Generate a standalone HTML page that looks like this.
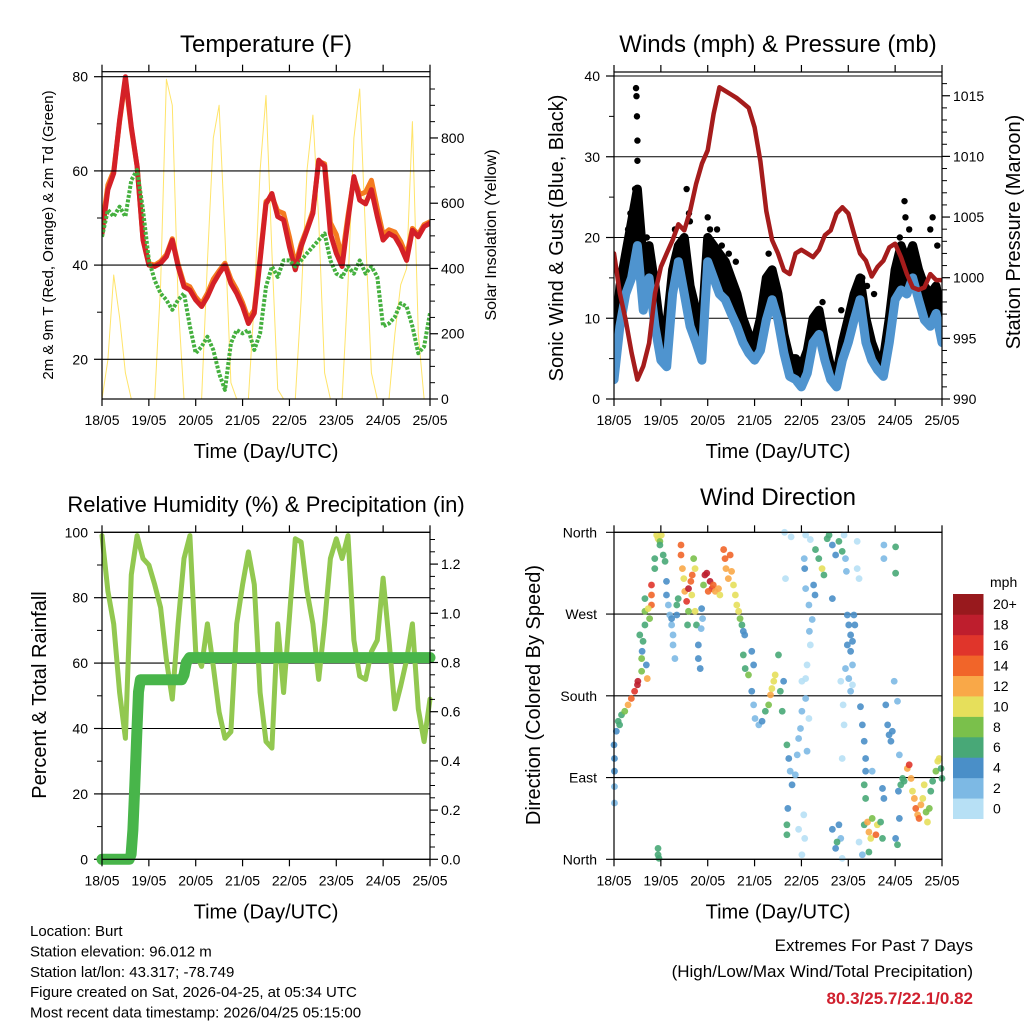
<!DOCTYPE html>
<html><head><meta charset="utf-8"><style>
html,body{margin:0;padding:0;background:#fff;}
svg{display:block;font-family:"Liberation Sans",Arial,sans-serif;}
</style></head><body>
<svg id="chart" width="1024" height="1024" viewBox="0 0 1024 1024" xmlns="http://www.w3.org/2000/svg">
<rect width="1024" height="1024" fill="#fff"/>
</svg>
<script>
// ---------- data ----------
const dayLabels = ["18/05","19/05","20/05","21/05","22/05","23/05","24/05","25/05"];
const step3h = 0.125;
const tempRed = [46.7,56,59.5,70.8,80,69.4,61,45.3,40,39.7,40.4,41.8,45.3,39.7,35.4,34.7,32.6,31.2,33.3,36.1,38.2,40,36.1,34,31.2,27.6,29.8,41,53,55.2,50.3,49.6,43.9,39,43.9,47.4,51,62.3,61,46.7,42.5,39.7,49.6,58.8,53.8,53,56,50.3,45.3,46.7,46,43.9,41,47.4,46,48.2,48.9];
const tempOrange = [48,57,60,70.5,79.5,69,61,45.5,40.3,40,40.8,42.2,45.6,40.2,36,35.4,33.2,31.8,34,37,38.8,40.4,37,34.8,32,28.5,30.5,41.5,53.5,54.5,51.5,51,46,40,44.5,47.8,51.5,62,61.5,49,46.5,41.5,50.5,58.5,55,55.5,58,52,46.5,47.5,47,45,42,47.8,46.5,48.6,49.2];
const dewGreen = [46,51.7,50.3,52.4,50.3,58,60.2,51.7,41,36.8,34,32.6,30.5,32.6,34,27,21.3,22.7,24.8,22,17,13.5,23.4,26.2,25.5,26.2,22,25.5,35.4,39.7,37.5,41,41,39.7,41,42.5,43.9,45.3,46.7,41,38.2,37.5,39.7,38.2,41,38.2,39.7,37.5,27,27.6,29,31.9,31.2,27,21.3,22.7,29.8];
const solar = [0,120,380,250,80,0,0,0,0,0,350,980,900,300,0,0,0,0,420,800,900,500,50,0,0,0,300,700,930,450,30,0,0,0,300,700,870,550,80,0,0,0,350,800,950,500,80,0,0,0,200,350,400,850,200,0,0];
const windMean = [2.4,9,13,15,19,11,15,9,4.8,4,13,17,13,9,7,4.8,17,15,13,12.3,10.6,9,7,5.7,4.8,6,9.8,12.3,9.8,5.7,2.8,2.4,1.5,3.2,7,8,4.8,2.4,1.5,4.8,7,9.8,12.3,7,4.8,3.6,2.8,7,12.3,13.5,13,15,12.3,9.8,9,10.6,7];
const windGust = [5,14,18,22,26,17,19,14,8,9,16,19,20,14,11,9,20,19,18,17,15,13,10,8,7,10,15,16,13,8,5,5,4,6,10,11,7,4,3,7,10,13,15,10,7,5,5,10,16,19,17,19,16,14,13,14,10];
const gustPeakDay = [0.47,0.48,0.49,0.5,0.5,0.45,0.46,1.55,1.6,1.62,2.0,2.05,2.2,3.35,4.45,4.85,5.55,6.2,6.22,6.75,6.8,0.62,0.7,0.3,0.35,1.3,1.4,2.3,2.45,2.6,3.3,3.4,5.3,5.4,6.1,6.3,6.9];
const gustPeakVal = [38.5,37.5,35,32,29.5,26,24,26,23,22,22.5,21,21,16,12,11,13,24.5,22.5,21,22.5,20,20,21,23,21,18,19,18,17,18,16,15,14,20,21,19];
const pressure = [1002,998.7,996.5,993.8,991.6,992.7,994.6,998.7,1000.9,1002,1003.1,1004.4,1003.9,1005.5,1007.7,1009.4,1010.5,1013.5,1015.7,1015.4,1015.1,1014.8,1014.4,1014,1012.4,1009.6,1005.5,1003.1,1002,1000.6,1000.3,1002,1002.3,1002,1001.7,1002.3,1003.5,1003.9,1005.3,1005.8,1005.3,1003.6,1002,1001.4,1000.1,1000.9,1001.4,1002.5,1002.8,1001.7,1000.3,999.2,999,999.2,1000.3,999.8,999.8];
const rh = [99,82,72,51,37,87,99,92,90,84,77,61,49,72,92,99,63.5,59,72,59,45,37,39,72,84,94,84,51,36,34,72,51,74,98,97,82,72,55,72,92,98,92,99,67,56,55,63.5,67,86,67,46,53,61,72,46,36,49];
const rainDay = [0,0.58,0.62,0.66,0.7,0.74,0.78,0.82,1.7,1.75,1.8,1.87,7];
const rainVal = [0,0,0.02,0.12,0.3,0.5,0.68,0.73,0.73,0.75,0.8,0.82,0.82];
const dirDay = [0,.01,.01,.01,.01,.05,.09,.16,.23,.12,.3,.37,.44,.5,.51,.59,.59,.62,.66,.66,.55,.6,.71,.69,.8,.8,.8,.66,.73,.76,
.91,.94,.98,1.01,.98,.87,1.05,1.09,.87,.94,.94,.96,1.12,1.12,1.16,1.19,1.23,1.26,1.26,1.3,1.23,1.34,1.37,1.34,
1.43,1.43,1.46,1.49,1.51,1.55,1.59,1.64,1.67,1.7,1.73,1.66,1.73,1.59,1.57,1.76,1.8,1.8,1.84,1.87,1.89,1.86,
1.94,1.98,2.05,2.09,2.12,2.01,2.16,1.91,2.26,2.23,2.34,2.37,2.39,2.44,2.48,2.51,2.55,2.59,2.62,2.66,2.69,2.73,2.76,2.79,
2.76,2.8,2.87,2.94,2.98,3.01,3.09,3.16,3.23,3.3,3.34,3.37,3.41,3.44,3.51,3.55,3.59,3.62,2.94,2.98,
3.69,3.73,3.76,3.8,3.71,3.69,3.69,3.87,3.91,3.94,3.98,4.01,4.09,4.01,4.09,4.05,4.07,4.01,3.94,4.12,4.16,
3.64,3.78,3.66,4.09,4.19,4.07,4.09,4.16,4.17,4.19,4.12,4.06,4.23,
4.3,4.37,4.44,4.48,4.55,4.59,4.66,4.73,4.8,4.87,4.26,4.29,4.66,4.91,4.94,4.96,5.19,5.19,5.23,
4.98,5.01,5.05,5.09,5.12,5.05,5.09,4.94,5.01,5.05,5.09,4.98,5.14,4.84,4.89,4.91,4.87,4.8,4.84,4.87,4.66,4.76,4.73,
5.34,5.41,5.44,5.48,5.51,5.59,5.62,5.69,5.73,5.44,5.23,5.3,
5.26,5.3,5.34,5.37,5.37,5.34,5.37,5.51,5.73,5.76,5.8,5.84,5.87,5.91,5.94,5.98,6.05,6.01,6.05,6.09,6.07,6.09,5.76,5.76,6.01,6.01,
6.16,6.19,6.26,6.3,6.34,6.37,6.41,6.44,6.48,6.51,6.55,6.59,6.62,6.66,6.69,6.73,6.76,6.8,6.87,6.91,6.94,6.98,7.0,6.12];
const dirDeg = [126,111,97,80,62,141,152,159,163,148,170,177,185,192,196,207,221,240,258,273,247,229,199,214,302,291,280,287,276,265,
357,353,350,357,346,331,335,328,320,12,5,1,306,291,280,269,258,247,236,221,265,280,287,269,
346,335,320,309,295,284,298,306,313,331,320,291,273,273,258,258,236,221,210,276,265,254,
313,315,306,298,302,295,295,302,291,298,341,331,320,309,335,317,302,291,280,273,265,258,251,247,
225,210,203,185,170,155,148,152,163,170,181,188,196,203,225,185,163,196,229,214,
126,111,97,82,56,38,27,93,115,133,144,163,177,196,199,49,23,5,33,119,155,
360,355,309,357,352,320,298,280,251,236,214,331,264,
341,331,320,313,353,357,346,335,350,339,302,291,287,357,331,317,350,320,309,
269,258,247,240,269,229,214,210,199,185,192,236,258,196,170,148,111,38,23,1,33,19,12,
38,41,30,23,45,27,38,41,23,8,19,5,
168,148,130,111,97,82,67,97,78,67,170,148,137,130,141,196,174,23,16,115,75,45,346,331,344,315,
89,86,100,104,89,75,67,56,49,45,60,67,82,52,41,56,75,86,97,108,111,100,89,82];
const dirSpeed = [4,4,4,3,3,5,7,7,8,6,13,15,16,18,19,8,9,7,6,8,6,4,12,4,16,15,14,6,11,8,
10,10,9,11,6,6,7,7,7,7,7,7,4,4,3,3,2,2,2,2,4,6,7,4,
14,14,12,10,12,16,18,15,14,8,10,10,10,9,6,6,4,4,4,4,3,3,
18,19,18,16,15,15,13,8,10,12,14,14,13,12,15,12,11,10,10,10,8,7,4,4,
6,7,8,4,3,2,2,4,6,8,12,10,11,10,7,6,6,4,4,4,
6,4,3,4,4,6,6,2,2,3,2,3,2,1,1,0,0,1,0,2,1,
1,1,1,1,1,4,3,2,2,1,1,2,2,
6,6,10,7,6,6,4,5,6,6,4,4,4,1,2,2,1,1,1,
4,4,4,4,4,4,2,2,2,2,1,4,4,1,1,1,1,4,2,1,4,6,4,
7,12,12,10,8,14,10,7,7,6,1,2,
4,4,4,5,4,6,6,2,4,4,4,4,4,4,4,2,2,4,6,2,4,4,2,2,7,6,
6,7,13,16,12,10,12,14,13,15,12,10,10,8,10,8,6,6,8,10,11,6,6,6];
const speedColors = ["#b7e0f5","#7db9e4","#4a8fc8","#48a877","#7ac04b","#e6df5b","#f9a848","#f16529","#e0352b","#be1e2d","#98191d"];
const speedLabels = ["0","2","4","6","8","10","12","14","16","18","20+"];
const dirLabels = ["North","East","South","West","North"];

// ---------- helpers ----------
const NS = "http://www.w3.org/2000/svg";
const svg = document.getElementById("chart");
function mk(tag, attrs, parent) {
  const e = document.createElementNS(NS, tag);
  for (const k in attrs) e.setAttribute(k, attrs[k]);
  (parent || svg).appendChild(e);
  return e;
}
function txt(s, x, y, size, anchor, parent, extra) {
  const t = mk("text", Object.assign({x: x, y: y, "font-size": size, "text-anchor": anchor || "middle", fill: "#000"}, extra || {}), parent);
  t.textContent = s;
  return t;
}
function group(name) {
  const g = mk("g", {});
  
  
  return g;
}
function polyline(pts, stroke, w, parent, extra) {
  return mk("polyline", Object.assign({points: pts.map(p => p[0].toFixed(1) + "," + p[1].toFixed(1)).join(" "), fill: "none", stroke: stroke, "stroke-width": w, "stroke-linejoin": "round", "stroke-linecap": "round"}, extra || {}), parent);
}

function panelFrame(g, P) {
  mk("rect", {x: P.x0, y: P.top, width: P.x1 - P.x0, height: P.bot - P.top, fill: "none", stroke: "#000", "stroke-width": 1.2}, g);
  const xg = group("x-axis");
  g.appendChild(xg);
  for (let i = 0; i < dayLabels.length; i++) {
    const x = P.xs(i);
    mk("line", {x1: x, x2: x, y1: P.bot, y2: P.bot + 7, stroke: "#000", "stroke-width": 1.2}, xg);
    mk("line", {x1: x, x2: x, y1: P.top, y2: P.top - 7, stroke: "#000", "stroke-width": 1.2}, xg);
    const t = txt(dayLabels[i], x, P.bot + 26, 14, "middle", xg);
    
    
  }
  const xt = txt("Time (Day/UTC)", (P.x0 + P.x1) / 2, P.bot + 59, 20, "middle", g);
  
  
}
function leftAxis(g, P, yf, majors, minors, labels, grid) {
  const ag = group("left-y-axis");
  g.appendChild(ag);
  majors.forEach((v, i) => {
    const y = yf(v);
    mk("line", {x1: P.x0 - 8, x2: P.x0, y1: y, y2: y, stroke: "#000", "stroke-width": 1.2}, ag);
    if (grid) mk("line", {x1: P.x0, x2: P.x1, y1: y, y2: y, stroke: "#000", "stroke-width": 1.1}, ag);
    const t = txt(labels[i], P.x0 - 14, y + 5, 14, "end", ag);
    
    
  });
  minors.forEach(v => {
    const y = yf(v);
    mk("line", {x1: P.x0 - 5, x2: P.x0, y1: y, y2: y, stroke: "#000", "stroke-width": 1}, ag);
  });
}
function rightAxis(g, P, yf, majors, minors, labels) {
  const ag = group("right-y-axis");
  g.appendChild(ag);
  majors.forEach((v, i) => {
    const y = yf(v);
    mk("line", {x1: P.x1, x2: P.x1 + 8, y1: y, y2: y, stroke: "#000", "stroke-width": 1.2}, ag);
    const t = txt(labels[i], P.x1 + 11, y + 5, 14, "start", ag);
    
    
  });
  minors.forEach(v => {
    const y = yf(v);
    mk("line", {x1: P.x1, x2: P.x1 + 5, y1: y, y2: y, stroke: "#000", "stroke-width": 1}, ag);
  });
}
function range(a, b, s) { const r = []; for (let v = a; v <= b + 1e-9; v += s) r.push(+v.toFixed(4)); return r; }
function rotTitle(g, s, x, y, size, name) {
  const t = txt(s, x, y, size, "middle", g, {transform: "rotate(-90 " + x + " " + y + ")"});
  
  
}
function series3h(arr, xf, yf) { return arr.map((v, i) => [xf(i * step3h), yf(v)]); }

// ---------- Panel 1: Temperature ----------
(function () {
  const P = {x0: 102, x1: 430, top: 71.7, bot: 399};
  P.xd = d => P.x0 + d * (P.x1 - P.x0) / 7; P.xs = P.xd;
  const yT = v => 359.3 - (v - 20) * 4.71;
  const yS = v => 399 - v * 0.3263;
  const g = group("temperature-panel");
  const clip = mk("clipPath", {id: "c1"}, g);
  mk("rect", {x: P.x0, y: P.top, width: P.x1 - P.x0, height: P.bot - P.top}, clip);
  const t = txt("Temperature (F)", 266, 52, 24, "middle", g);
  
  
  const d = group("temperature-series"); d.setAttribute("clip-path", "url(#c1)"); g.appendChild(d);
  const s = polyline(series3h(solar, P.xd, yS), "#ffe15a", 1, d, {opacity: 0.9});
  
  
  const o = polyline(series3h(tempOrange, P.xd, yT), "#f47b20", 5, d);
  
  
  const r = polyline(series3h(tempRed, P.xd, yT), "#d42027", 5, d);
  
  
  const gr = polyline(series3h(dewGreen, P.xd, yT), "#45b03f", 4, d, {"stroke-dasharray": "3 1.6", "stroke-linecap": "butt"});
  
  
  leftAxis(g, P, yT, [20, 40, 60, 80], [30, 50, 70], ["20", "40", "60", "80"], true);
  rightAxis(g, P, yS, [0, 200, 400, 600, 800], range(50, 950, 50).filter(v => v % 200), ["0", "200", "400", "600", "800"]);
  panelFrame(g, P);
  rotTitle(g, "2m & 9m T (Red, Orange) & 2m Td (Green)", 53, 235, 15, "left-y-axis-title");
  rotTitle(g, "Solar Insolation (Yellow)", 496, 235, 16, "right-y-axis-title");
})();

// ---------- Panel 2: Winds ----------
(function () {
  const P = {x0: 614, x1: 942, top: 72, bot: 399};
  P.xd = d => P.x0 + d * (P.x1 - P.x0) / 7; P.xs = P.xd;
  const yW = v => 399 - v * 8.075;
  const yP = p => 399 - (p - 990) * 12.13;
  const g = group("winds-panel");
  const clip = mk("clipPath", {id: "c2"}, g);
  mk("rect", {x: P.x0, y: P.top, width: P.x1 - P.x0, height: P.bot - P.top}, clip);
  const t = txt("Winds (mph) & Pressure (mb)", 778, 52, 24, "middle", g);
  
  
  leftAxis(g, P, yW, [0, 10, 20, 30, 40], [5, 15, 25, 35], ["0", "10", "20", "30", "40"], true);
  const d = group("wind-series"); d.setAttribute("clip-path", "url(#c2)"); g.appendChild(d);
  const top = series3h(windGust, P.xd, yW);
  const bot = series3h(windMean, P.xd, yW).reverse();
  const area = mk("polygon", {points: top.concat(bot).map(p => p[0].toFixed(1) + "," + p[1].toFixed(1)).join(" "), fill: "#000"}, d);
  
  
  const gl = polyline(top, "#000", 9, d);
  
  
  gustPeakDay.forEach((dd, i) => {
    const c = mk("circle", {cx: P.xd(dd), cy: yW(gustPeakVal[i]), r: 3.2, fill: "#000"}, d);
    
    
  });
  const wl = polyline(series3h(windMean, P.xd, yW), "#4f94cf", 9, d);
  
  
  const pl = polyline(series3h(pressure, P.xd, yP), "#a51c1c", 4.5, d);
  
  
  mk("line", {x1: P.x0, x2: P.x1, y1: yW(40), y2: yW(40), stroke: "#000", "stroke-width": 1.1}, g);
  rightAxis(g, P, yP, [990, 995, 1000, 1005, 1010, 1015], range(991, 1016, 1).filter(v => v % 5), ["990", "995", "1000", "1005", "1010", "1015"]);
  panelFrame(g, P);
  rotTitle(g, "Sonic Wind & Gust (Blue, Black)", 563, 238, 20, "left-y-axis-title");
  rotTitle(g, "Station Pressure (Maroon)", 1020, 232, 20, "right-y-axis-title");
})();

// ---------- Panel 3: RH ----------
(function () {
  const P = {x0: 102, x1: 430, top: 532.3, bot: 859.3};
  P.xd = d => P.x0 + d * (P.x1 - P.x0) / 7; P.xs = P.xd;
  const yR = v => 859.3 - v * 3.27;
  const yN = v => 859.3 - v * 246;
  const g = group("humidity-panel");
  const clip = mk("clipPath", {id: "c3"}, g);
  mk("rect", {x: P.x0 - 6, y: P.top - 2, width: P.x1 - P.x0 + 12, height: P.bot - P.top + 8}, clip);
  const t = txt("Relative Humidity (%) & Precipitation (in)", 266, 512, 22, "middle", g);
  
  
  leftAxis(g, P, yR, [0, 20, 40, 60, 80, 100], [10, 30, 50, 70, 90], ["0", "20", "40", "60", "80", "100"], true);
  const d = group("humidity-series"); d.setAttribute("clip-path", "url(#c3)"); g.appendChild(d);
  const rl = polyline(series3h(rh, P.xd, yR), "#92c850", 5, d);
  
  
  const pl = polyline(rainDay.map((dd, i) => [P.xd(dd), yN(rainVal[i])]), "#48b54a", 11, d);
  
  
  rightAxis(g, P, yN, [0, 0.2, 0.4, 0.6, 0.8, 1.0, 1.2], range(0.05, 1.3, 0.05).filter(v => Math.abs(v * 5 - Math.round(v * 5)) > 0.01), ["0.0", "0.2", "0.4", "0.6", "0.8", "1.0", "1.2"]);
  panelFrame(g, P);
  rotTitle(g, "Percent & Total Rainfall", 46, 695, 20, "left-y-axis-title");
})();

// ---------- Panel 4: Wind Direction ----------
(function () {
  const P = {x0: 614, x1: 942, top: 532.3, bot: 859.3};
  P.xd = d => P.x0 + d * (P.x1 - P.x0) / 7; P.xs = P.xd;
  const yD = deg => 859.3 - deg * 0.9083;
  const g = group("wind-direction-panel");
  const t = txt("Wind Direction", 778, 505, 24, "middle", g);
  
  
  const ag = group("direction-axis"); g.appendChild(ag);
  dirLabels.forEach((s, i) => {
    const y = yD(i * 90);
    mk("line", {x1: P.x0 - 8, x2: P.x1, y1: y, y2: y, stroke: "#000", "stroke-width": 1.1}, ag);
    const l = txt(s, P.x0 - 17, y + 5, 14, "end", ag);
    
    
  });
  const d = group("direction-points"); g.appendChild(d);
  dirDay.forEach((dd, i) => {
    const idx = Math.min(10, Math.floor(dirSpeed[i] / 2));
    const c = mk("circle", {cx: P.xd(dd), cy: yD(dirDeg[i]), r: 3.4, fill: speedColors[idx], opacity: 0.9}, d);
    
    
  });
  panelFrame(g, P);
  rotTitle(g, "Direction (Colored By Speed)", 540, 695, 20, "left-y-axis-title");
  const cb = group("speed-colorbar"); svg.appendChild(cb);
  const cx0 = 953, cw = 30.5, ctop = 594, cbot = 818.7, bh = (cbot - ctop) / speedColors.length;
  speedColors.forEach((c, i) => {
    const y = cbot - (i + 1) * bh;
    const r = mk("rect", {x: cx0, y: y, width: cw, height: bh + 0.3, fill: c}, cb);
    
    
    const l = txt(speedLabels[i], 993, y + bh / 2 + 5, 14, "start", cb);
    
    
  });
  const u = txt("mph", 990, 587, 14, "start", cb);
  
  
})();

// ---------- footer text ----------
(function () {
  const g = group("station-info");
  svg.appendChild(g);
  const lines = ["Location: Burt", "Station elevation: 96.012 m", "Station lat/lon: 43.317; -78.749", "Figure created on Sat, 2026-04-25, at 05:34 UTC", "Most recent data timestamp: 2026/04/25 05:15:00"];
  lines.forEach((s, i) => {
    const t = txt(s, 30, 936 + i * 20.4, 15, "start", g);
    
    
  });
  const e = group("extremes-box");
  svg.appendChild(e);
  const a = txt("Extremes For Past 7 Days", 973, 951, 17, "end", e);
  
  
  const b = txt("(High/Low/Max Wind/Total Precipitation)", 973, 977, 17, "end", e);
  
  
  const c = txt("80.3/25.7/22.1/0.82", 973, 1004, 17, "end", e, {fill: "#d0202e", "font-weight": "bold"});
  
  
})();
</script>
</body></html>
